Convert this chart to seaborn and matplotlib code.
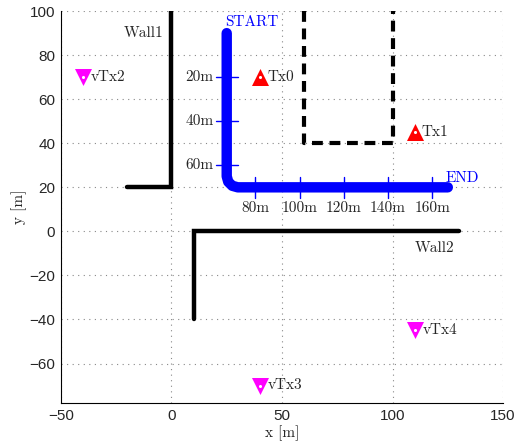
import numpy as np
import pandas as pd
import seaborn as sns
import matplotlib.pyplot as plt

# walls (black solid)
wall1_x = [-20, 0, 0]
wall1_y = [20, 20, 100]
wall2_x = [130, 10, 10]
wall2_y = [0, 0, -40]
# dashed building outline
box_x = [60, 60, 100, 100]
box_y = [100, 40, 40, 100]
# receiver route (rounded corner)
route_x = [25, 25, 25.7, 27.5, 30, 125]
route_y = [90, 25, 22.5, 20.7, 20, 20]
# distance marks along the route
vmark_y = [70, 50, 30]
vmark_lbl = ['20m', '40m', '60m']
hmark_x = [38, 58, 78, 98, 118]
hmark_lbl = ['80m', '100m', '120m', '140m', '160m']
# transmitters
tx_names = ['Tx0', 'Tx1']
tx_x = [40, 110]
tx_y = [70, 45]
vtx_names = ['vTx2', 'vTx3', 'vTx4']
vtx_x = [-40, 40, 110]
vtx_y = [70, -70, -45]

sns.set_style('white')
plt.rcParams['font.family'] = ['Liberation Sans', 'DejaVu Sans']
plt.rcParams['axes.unicode_minus'] = True
serif = ['cmr10', 'DejaVu Serif']
fs = 11

fig = plt.figure(figsize=(5.16, 4.45), dpi=100)
ax = fig.add_axes([0.118, 0.094, 0.857, 0.881])

ax.grid(True, color='#888888', linestyle=(0, (1, 4)), linewidth=0.8)
ax.set_axisbelow(True)

sns.lineplot(x=wall1_x, y=wall1_y, sort=False, estimator=None, color='black',
             lw=3.2, ax=ax, solid_joinstyle='miter')
sns.lineplot(x=wall2_x, y=wall2_y, sort=False, estimator=None, color='black',
             lw=3.2, ax=ax, solid_joinstyle='miter')
sns.lineplot(x=box_x, y=box_y, sort=False, estimator=None, color='black',
             lw=3, ax=ax, linestyle=(0, (2.6, 1.6)))
sns.lineplot(x=route_x, y=route_y, sort=False, estimator=None, color='#0000ff',
             lw=7.5, ax=ax, solid_capstyle='round', solid_joinstyle='round')

for y, lbl in zip(vmark_y, vmark_lbl):
    ax.plot([20, 30], [y, y], color='#0000ff', lw=1)
    ax.text(19, y, lbl, ha='right', va='center', fontsize=fs, family=serif)
for x, lbl in zip(hmark_x, hmark_lbl):
    ax.plot([x, x], [15.3, 24.5], color='#0000ff', lw=1)
    ax.text(x, 13.5, lbl, ha='center', va='top', fontsize=fs, family=serif)

tx = pd.DataFrame({'x': tx_x, 'y': tx_y})
vtx = pd.DataFrame({'x': vtx_x, 'y': vtx_y})
sns.scatterplot(data=tx, x='x', y='y', marker='^', s=150, color='red',
                linewidth=0, ax=ax, zorder=5)
sns.scatterplot(data=vtx, x='x', y='y', marker='v', s=150, color='magenta',
                linewidth=0, ax=ax, zorder=5)
ax.scatter(tx_x + vtx_x, tx_y + vtx_y, s=1.5, color='white', zorder=6)

for n, x, y in zip(tx_names, tx_x, tx_y):
    ax.text(x + 3.3, y, n, ha='left', va='center', fontsize=fs, family=serif)
for n, x, y in zip(vtx_names, vtx_x, vtx_y):
    ax.text(x + 3.5, y, n, ha='left', va='center', fontsize=fs, family=serif)

ax.text(24.5, 95, 'START', color='#0000ff', ha='left', va='center',
        fontsize=fs, family=serif)
ax.text(124, 24, 'END', color='#0000ff', ha='left', va='center',
        fontsize=fs, family=serif)
ax.text(-3.4, 90, 'Wall1', ha='right', va='center', fontsize=fs, family=serif)
ax.text(110, -7.6, 'Wall2', ha='left', va='center', fontsize=fs, family=serif)

ax.set_xlim(-50, 150)
ax.set_ylim(-78, 100)
ax.set_xticks([-50, 0, 50, 100, 150])
ax.set_yticks(np.arange(-60, 101, 20))
ax.tick_params(direction='in', length=4, width=0.6, labelsize=11, pad=4)
ax.set_xlabel('x [m]', fontsize=fs, family=serif, labelpad=2)
ax.set_ylabel('y [m]', fontsize=fs, family=serif, labelpad=2)
sns.despine(ax=ax)
for s in ['left', 'bottom']:
    ax.spines[s].set_linewidth(0.8)
    ax.spines[s].set_color('black')

fig.savefig('out.png', dpi=100)
